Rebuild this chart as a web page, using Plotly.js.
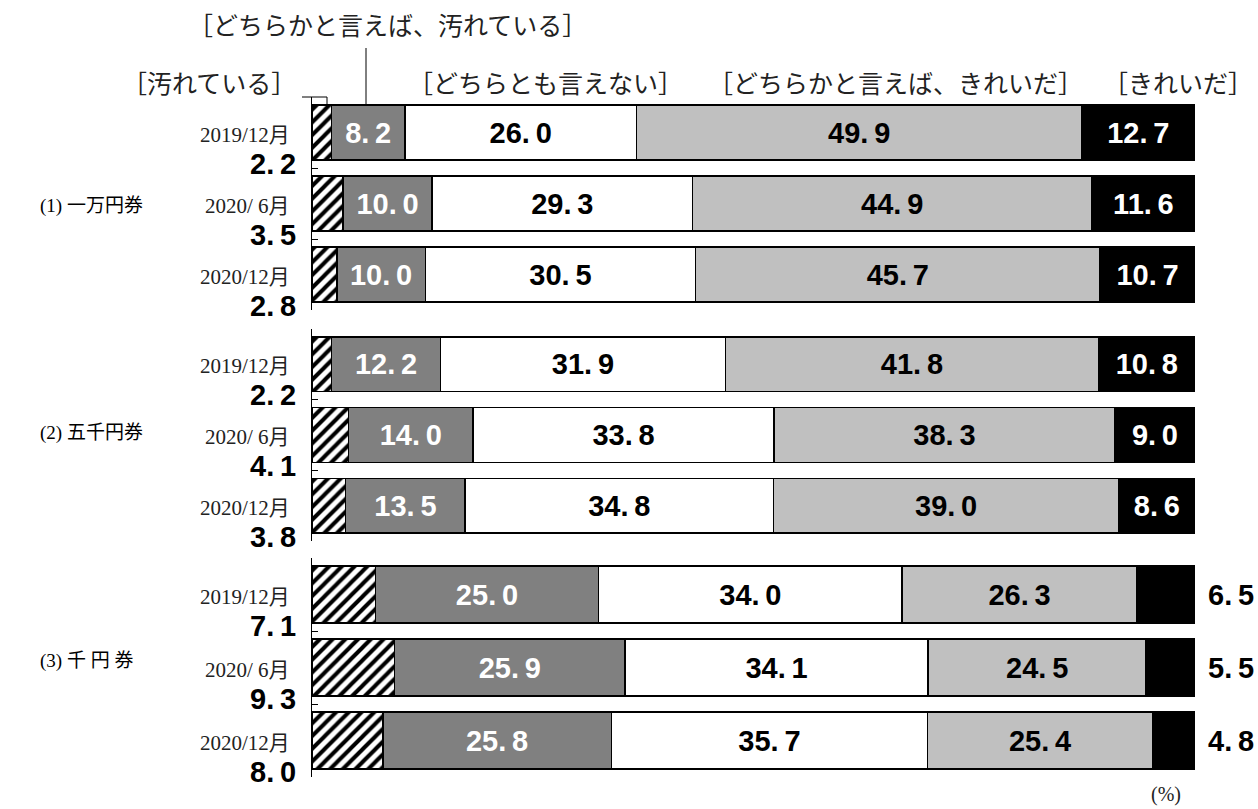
<!DOCTYPE html>
<html><head><meta charset="utf-8">
<script src="https://cdn.plot.ly/plotly-3.0.1.min.js"></script>
<style>html,body{margin:0;padding:0;background:#fff}</style>
</head><body>
<div id="chart" style="width:1258px;height:809px"></div>
<script>
// ---- data ----
const groups = ['(1) 一万円券', '(2) 五千円券', '(3) 千 円 券'];
const periods = ['2019/12月', '2020/ 6月', '2020/12月'];
const seriesNames = ['［汚れている］', '［どちらかと言えば、汚れている］', '［どちらとも言えない］', '［どちらかと言えば、きれいだ］', '［きれいだ］'];
// order: group1 (3 periods), group2, group3
const dirty       = [2.2, 3.5, 2.8,   2.2, 4.1, 3.8,   7.1, 9.3, 8.0];
const ratherDirty = [8.2, 10.0, 10.0, 12.2, 14.0, 13.5, 25.0, 25.9, 25.8];
const neither     = [26.0, 29.3, 30.5, 31.9, 33.8, 34.8, 34.0, 34.1, 35.7];
const ratherClean = [49.9, 44.9, 45.7, 41.8, 38.3, 39.0, 26.3, 24.5, 25.4];
const clean       = [12.7, 11.6, 10.7, 10.8, 9.0, 8.6,   6.5, 5.5, 4.8];
const unit = '(%)';

// ---- styling ----
const W = 1258, H = 809, L = 312, R = 63;
const PW = W - L - R;
const px = x => (x - L) / PW;
const py = y => 1 - y / H;
const numFont = 'Liberation Sans, Arial, sans-serif';
const NUM = 29;
const serif = 'Liberation Serif, Noto Sans CJK JP, serif';
const fmt = v => v.toFixed(1).replace('.', '.\u2009');
const series = [dirty, ratherDirty, neither, ratherClean, clean];
const fills = ['#ffffff', '#808080', '#ffffff', '#c0c0c0', '#000000'];
const txtCol = [null, '#ffffff', '#000000', '#000000', '#ffffff'];
const axNames = ['y', 'y2', 'y3'];
const domains = [[py(310), py(97)], [py(541), py(329)], [py(777), py(558)]];

const traces = [];
for (let g = 0; g < 3; g++) {
  series.forEach((vals, s) => {
    const sub = vals.slice(g * 3, g * 3 + 3);
    const showText = s > 0 && !(s === 4 && g === 2);
    const t = {
      type: 'bar', orientation: 'h',
      name: seriesNames[s], showlegend: false,
      y: periods, x: sub, yaxis: axNames[g], xaxis: 'x',
      marker: {color: fills[s], line: {color: '#000', width: 1.5}},
      text: showText ? sub.map(fmt) : sub.map(() => ''),
      textposition: 'inside', insidetextanchor: 'middle',
      constraintext: 'none',
      textfont: {family: numFont, size: NUM, color: txtCol[s] || '#000', weight: 'bold'},
      hoverinfo: 'skip'
    };
    if (s === 0) {
      t.marker.pattern = {shape: '/', fgcolor: '#000', bgcolor: '#fff', size: 9, solidity: 0.45};
    }
    traces.push(t);
  });
}

const annotations = [];
const groupShift = [-2, 2, 7];
for (let g = 0; g < 3; g++) {
  annotations.push({xref: 'paper', yref: axNames[g], x: px(38), y: periods[1], xanchor: 'left', yanchor: 'middle',
    yshift: groupShift[g], text: groups[g], showarrow: false, font: {family: serif, size: 19, color: '#000'}});
  for (let i = 0; i < 3; i++) {
    const k = g * 3 + i;
    annotations.push({xref: 'paper', yref: axNames[g], x: px(292), y: periods[i], xanchor: 'right', yanchor: 'middle',
      yshift: -2, text: periods[i], showarrow: false, font: {family: serif, size: 21, color: '#222'}});
    annotations.push({xref: 'paper', yref: axNames[g], x: px(298), y: periods[i], xanchor: 'right', yanchor: 'middle',
      yshift: -31, text: fmt(dirty[k]), showarrow: false, font: {family: numFont, size: NUM, color: '#000', weight: 'bold'}});
    if (g === 2) {
      annotations.push({xref: 'paper', yref: axNames[g], x: px(1206), y: periods[i], xanchor: 'left', yanchor: 'middle',
        text: fmt(clean[k]), showarrow: false, font: {family: numFont, size: NUM, color: '#000', weight: 'bold'}});
    }
  }
}
// header labels
const headFont = {family: serif, size: 25, color: '#222'};
const heads = [
  [seriesNames[0], 209, 84],
  [seriesNames[1], 387, 26],
  [seriesNames[2], 545, 84],
  [seriesNames[3], 895, 84],
  [seriesNames[4], 1178, 84]
];
heads.forEach(([t, x, y]) => annotations.push({xref: 'paper', yref: 'paper', x: px(x), y: py(y), xanchor: 'center', yanchor: 'middle',
  text: t, showarrow: false, font: headFont}));
annotations.push({xref: 'paper', yref: 'paper', x: px(1166), y: py(794), xanchor: 'center', yanchor: 'middle',
  text: unit, showarrow: false, font: {family: serif, size: 20, color: '#222'}});

const shapes = [
  {type: 'line', xref: 'paper', yref: 'paper', x0: px(302), x1: px(327), y0: py(97), y1: py(97), line: {color: '#000', width: 1}},
  {type: 'line', xref: 'paper', yref: 'paper', x0: px(327), x1: px(327), y0: py(97), y1: py(106), line: {color: '#000', width: 1}},
  {type: 'line', xref: 'paper', yref: 'paper', x0: px(366), x1: px(366), y0: py(48), y1: py(106), line: {color: '#000', width: 1}}
];

const layout = {
  width: W, height: H,
  margin: {l: L, r: R, t: 0, b: 0},
  paper_bgcolor: '#fff', plot_bgcolor: 'rgba(0,0,0,0)',
  barmode: 'stack', barnorm: 'percent', bargap: 0.225,
  showlegend: false,
  xaxis: {range: [0, 100], visible: false, fixedrange: true},
  annotations, shapes
};
axNames.forEach((a, g) => {
  const key = g === 0 ? 'yaxis' : 'yaxis' + (g + 1);
  layout[key] = {
    domain: domains[g], anchor: 'x', type: 'category', autorange: false, range: [2.5, -0.5],
    showline: true, linecolor: '#000', linewidth: 1, ticks: 'inside', ticklen: 6, tickcolor: '#000',
    tickson: 'boundaries', showticklabels: false, showgrid: false, zeroline: false, fixedrange: true
  };
});

Plotly.newPlot('chart', traces, layout, {displayModeBar: false, staticPlot: true});
</script>
</body></html>
